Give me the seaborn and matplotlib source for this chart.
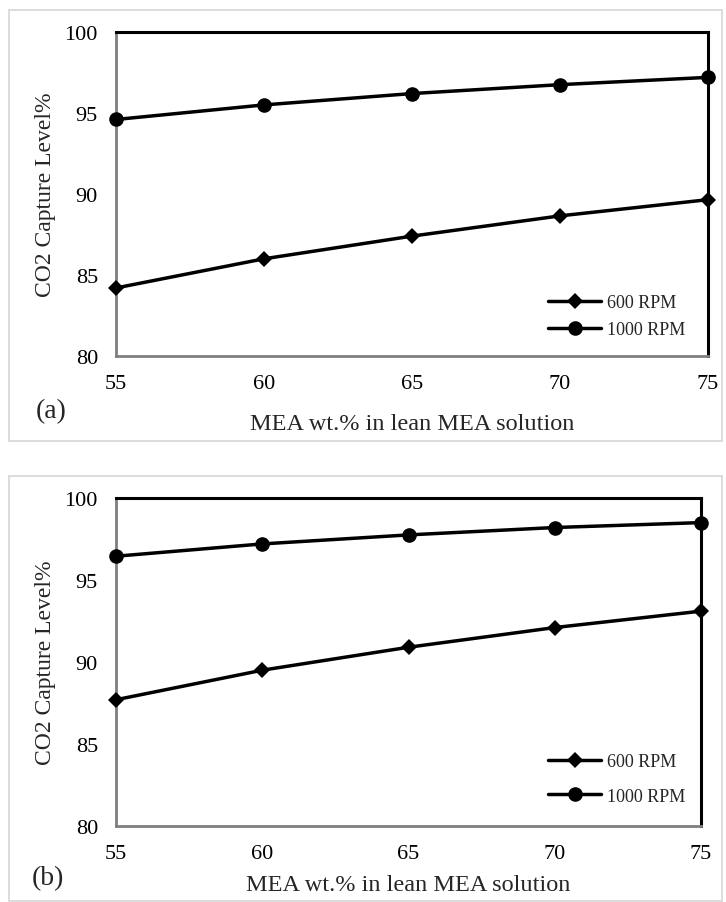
import numpy as np
import pandas as pd
import matplotlib
matplotlib.use('Agg')
import matplotlib.pyplot as plt
import seaborn as sns
from matplotlib.patches import Rectangle

sns.set_style('white')
plt.rcParams['font.family'] = ['Liberation Serif', 'DejaVu Serif']

mea = [55, 60, 65, 70, 75]
# panel (a)
a_600 = [84.2, 86.0, 87.4, 88.65, 89.65]
a_1000 = [94.6, 95.5, 96.2, 96.75, 97.2]
# panel (b)
b_600 = [87.7, 89.5, 90.9, 92.1, 93.1]
b_1000 = [96.45, 97.2, 97.75, 98.2, 98.5]

panels = [('(a)', a_600, a_1000), ('(b)', b_600, b_1000)]

fig = plt.figure(figsize=(7.26, 9.03), dpi=100)

W, H = 726, 903
# pixel layout per panel: axes box, outer frame, tag pos, xlabel centre, legend row gap
boxes = [(116, 33, 708, 357), (116, 499, 701, 827)]
frames = [(9, 11, 722, 442), (9, 477, 722, 902)]
tags = [(36, 412), (32, 879)]
xlab_y = [425, 886]
leg_y = [317, 780]
leg_sp = [0.55, 0.95]

for i, (tag, s600, s1000) in enumerate(panels):
    l, t, r, b = boxes[i]
    fl, ft, fr, fb = frames[i]
    fig.patches.append(Rectangle((fl / W, 1 - fb / H), (fr - fl) / W, (fb - ft) / H,
                                 transform=fig.transFigure, fill=False,
                                 edgecolor='#d9d9d9', linewidth=1.3))
    ax = fig.add_axes([l / W, 1 - b / H, (r - l) / W, (b - t) / H])
    df = pd.DataFrame({'x': mea * 2, 'y': s600 + s1000,
                       'series': ['600 RPM'] * 5 + ['1000 RPM'] * 5})
    sns.lineplot(data=df[df.series == '600 RPM'], x='x', y='y', ax=ax, color='black',
                 linewidth=2.5, marker='D', markersize=8, markeredgewidth=0,
                 label='600 RPM', clip_on=False, zorder=5)
    sns.lineplot(data=df[df.series == '1000 RPM'], x='x', y='y', ax=ax, color='black',
                 linewidth=2.5, marker='o', markersize=10.5, markeredgewidth=0,
                 label='1000 RPM', clip_on=False, zorder=5)
    ax.set_xlim(55, 75)
    ax.set_ylim(80, 100)
    ax.set_xticks([55, 60, 65, 70, 75])
    ax.set_yticks([80, 85, 90, 95, 100])
    ax.tick_params(axis='both', length=0, labelsize=16, colors='black')
    ax.tick_params(axis='x', pad=13)
    ax.tick_params(axis='y', pad=13)
    for side in ['top', 'right']:
        ax.spines[side].set_color('black')
        ax.spines[side].set_linewidth(2.2)
    for side in ['left', 'bottom']:
        ax.spines[side].set_color('#7f7f7f')
        ax.spines[side].set_linewidth(2.0)
    ax.set_xlabel('MEA wt.% in lean MEA solution', fontsize=17.5)
    ax.set_ylabel('CO2 Capture Level%', fontsize=17)
    ax.xaxis.set_label_coords(0.5, (b - xlab_y[i]) / (b - t))
    ax.xaxis.label.set_va('center')
    ax.yaxis.set_label_coords((46 - l) / (r - l), 0.5)
    ax.yaxis.label.set_va('center')
    ax.legend(loc='center left', frameon=False, fontsize=13, handlelength=2.95,
              handletextpad=0.3, labelspacing=leg_sp[i], borderpad=0, borderaxespad=0,
              bbox_to_anchor=((548 - l) / (r - l), (b - leg_y[i]) / (b - t)))
    fig.text(tags[i][0] / W, 1 - tags[i][1] / H, tag, fontsize=20, va='center', ha='left')

fig.savefig('out.png', dpi=100)
